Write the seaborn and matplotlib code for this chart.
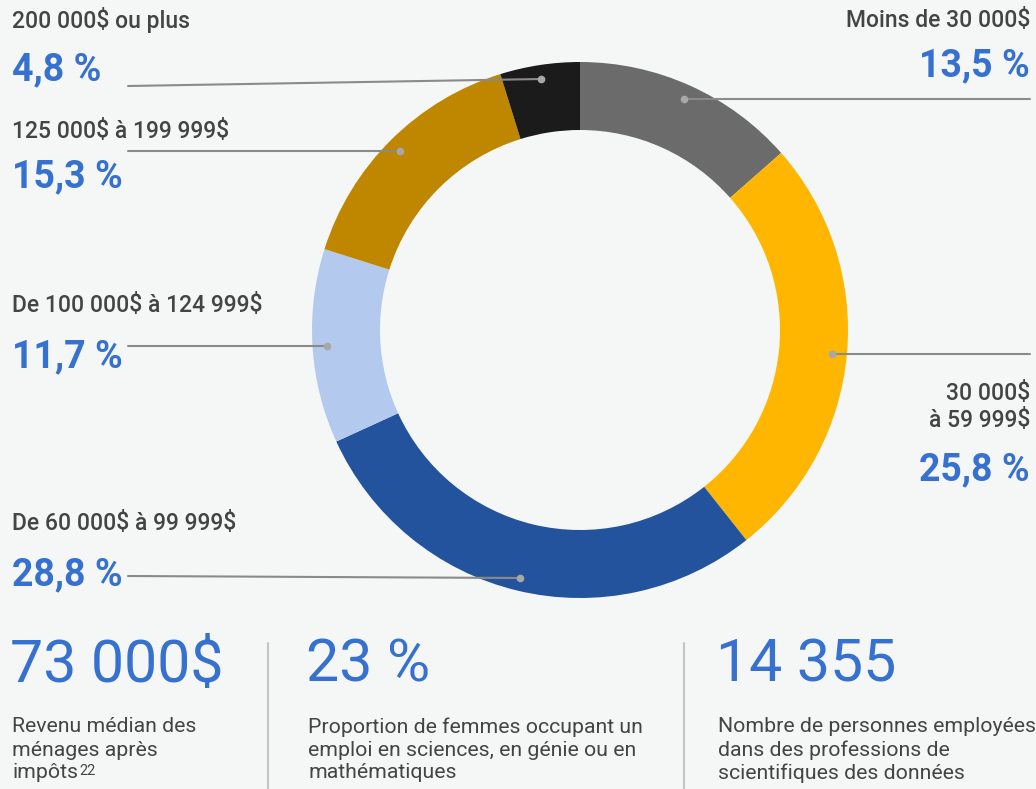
import matplotlib
matplotlib.use("Agg")
import matplotlib.pyplot as plt
import seaborn as sns

# =============================================================
# DATA
# =============================================================
categories = ["Moins de 30 000$", "30 000$\nà 59 999$", "De 60 000$ à 99 999$",
              "De 100 000$ à 124 999$", "125 000$ à 199 999$", "200 000$ ou plus"]
shares = [13.5, 25.8, 28.8, 11.7, 15.3, 4.8]
share_labels = ["13,5 %", "25,8 %", "28,8 %", "11,7 %", "15,3 %", "4,8 %"]
slice_colors = ["#6b6b6b", "#ffb600", "#24539d", "#b3c9ee", "#bf8600", "#1b1b1b"]

stat_values = ["73 000$", "23 %", "14 355"]
stat_texts = [["Revenu médian des", "ménages après", "impôts"],
              ["Proportion de femmes occupant un", "emploi en sciences, en génie ou en",
               "mathématiques"],
              ["Nombre de personnes employées", "dans des professions de",
               "scientifiques des données"]]

BG = "#f5f7f7"
DARK = "#444444"
BLUE = "#3671d0"
LINE = "#8a8a8a"

sns.set_style("white")
plt.rcParams['font.family'] = ['Roboto', 'DejaVu Sans']
plt.rcParams['text.parse_math'] = False

W, H = 1036, 789
fig = plt.figure(figsize=(W / 100, H / 100), dpi=100, facecolor=BG)
ax = fig.add_axes([0, 0, 1, 1])
ax.set_xlim(0, W)
ax.set_ylim(0, H)
ax.set_aspect("equal")
ax.axis("off")
ax.set_facecolor(BG)


def Y(y):
    # pixel row (from top) -> data y
    return H - y


# =============================================================
# DONUT
# =============================================================
ax.pie(shares, colors=slice_colors, startangle=90, counterclock=False,
       center=(580, Y(330)), radius=268,
       wedgeprops=dict(width=68, linewidth=0))
ax.set_xlim(0, W)
ax.set_ylim(0, H)

# leader lines (label side -> dot on ring)
leaders = [((1030, 99), (684, 99)),
           ((1030, 354), (832, 354)),
           ((128, 576), (520, 578)),
           ((128, 346), (327, 346)),
           ((128, 151), (400, 151)),
           ((128, 86), (541, 79))]
for (x0, y0), (x1, y1) in leaders:
    ax.plot([x0, x1], [Y(y0), Y(y1)], color=LINE, lw=1.5, zorder=3)
    ax.plot(x1, Y(y1), "o", color="#a8a8a8", ms=4.5, zorder=4)

# labels
label_pos = [(1030, 20, 66, "right"),
             (1030, 407, 470, "right"),
             (12, 523, 575, "left"),
             (12, 305, 357, "left"),
             (12, 131, 177, "left"),
             (12, 20, 70, "left")]
for cat, lab, (x, ycat, ypct, ha) in zip(categories, share_labels, label_pos):
    ax.text(x, Y(ycat), cat, ha=ha, va="center", fontsize=16.5, color=DARK,
            fontweight="medium", linespacing=1.2)
    ax.text(x, Y(ypct), lab, ha=ha, va="center", fontsize=27, color=BLUE,
            fontweight="bold")

# =============================================================
# BOTTOM STATS
# =============================================================
stat_x = [12, 308, 718]
for x, val, lines in zip(stat_x, stat_values, stat_texts):
    ax.text(x - 2, Y(665), val, ha="left", va="center", fontsize=42.5,
            color=BLUE, fontweight="normal")
    for i, ln in enumerate(lines):
        ax.text(x, Y(727 + 23 * i), ln, ha="left", va="center",
                fontsize=15.3, color=DARK)

# footnote "22" after "impôts"
fig.canvas.draw()
rend = fig.canvas.get_renderer()
imp = [t for t in ax.texts if t.get_text() == "impôts"][0]
bb = imp.get_window_extent(rend)
ax.text(bb.x1 + 1, Y(771), "22", ha="left", va="center", fontsize=10.5, color=DARK)

for sx in [268, 684]:
    ax.plot([sx, sx], [Y(643), Y(789)], color="#c4c4c4", lw=1.5)

fig.savefig("out.png", dpi=100, facecolor=BG)
